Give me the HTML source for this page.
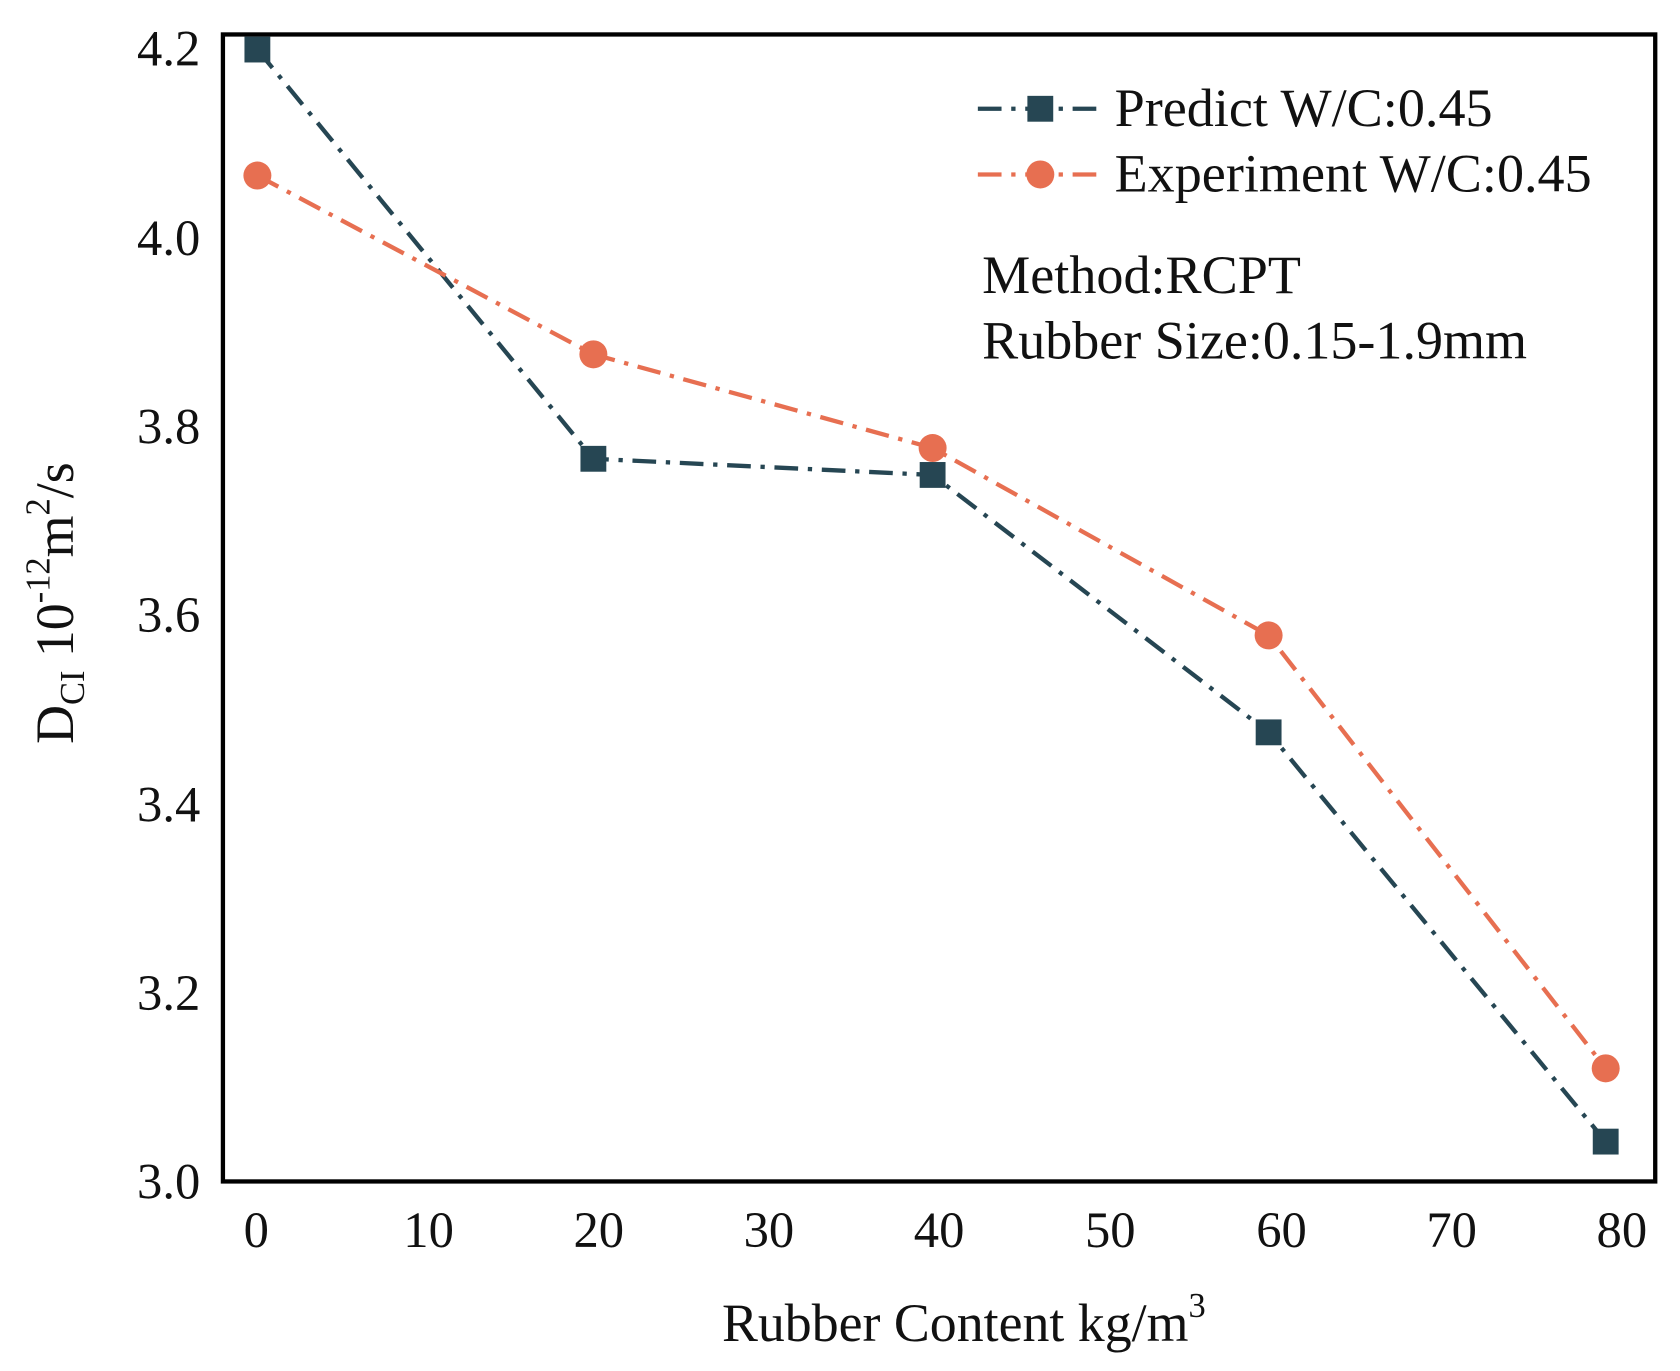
<!DOCTYPE html>
<html><head><style>html,body{margin:0;padding:0;background:#fff}svg{display:block}</style></head>
<body>
<svg width="1680" height="1371" viewBox="0 0 1560 1273" preserveAspectRatio="none" xmlns="http://www.w3.org/2000/svg" font-family="Liberation Serif, serif">
<rect x="207" y="32" width="1330" height="1065" fill="none" stroke="#000" stroke-width="4"/>
<g font-size="47" text-anchor="end" fill="#111">
<text x="186" y="61">4.2</text><text x="186" y="237">4.0</text><text x="186" y="412">3.8</text><text x="186" y="587">3.6</text><text x="186" y="763">3.4</text><text x="186" y="938">3.2</text><text x="186" y="1113">3.0</text>
</g>
<g font-size="47" text-anchor="middle" fill="#111">
<text x="238" y="1158">0</text><text x="398" y="1158">10</text><text x="556" y="1158">20</text><text x="714" y="1158">30</text><text x="872" y="1158">40</text><text x="1031" y="1158">50</text><text x="1190" y="1158">60</text><text x="1348" y="1158">70</text><text x="1506" y="1158">80</text>
</g>
<text x="895" y="1245" font-size="50" text-anchor="middle" fill="#111">Rubber Content kg/m<tspan font-size="32" dy="-22">3</tspan></text>
<text transform="translate(68,560) rotate(-90)" font-size="50" text-anchor="middle" fill="#111">D<tspan font-size="32" dy="10">CI</tspan><tspan dy="-10"> 10</tspan><tspan font-size="32" dy="-22">-12</tspan><tspan dy="22">m</tspan><tspan font-size="32" dy="-22">2</tspan><tspan dy="22">/s</tspan></text>
<polyline points="239,46 551,426 866,441 1178,680 1491,1060" fill="none" stroke="#264653" stroke-width="4" stroke-dasharray="22,9,4,9"/>
<polyline points="239,163 551,329 866,416 1178,590 1491,992" fill="none" stroke="#e76f51" stroke-width="4" stroke-dasharray="22,9,4,9"/>
<g fill="#264653">
<rect x="227" y="34" width="24" height="24"/><rect x="539" y="414" width="24" height="24"/><rect x="854" y="429" width="24" height="24"/><rect x="1166" y="668" width="24" height="24"/><rect x="1479" y="1048" width="24" height="24"/>
</g>
<g fill="#e76f51">
<circle cx="239" cy="163" r="13"/><circle cx="551" cy="329" r="13"/><circle cx="866" cy="416" r="13"/><circle cx="1178" cy="590" r="13"/><circle cx="1491" cy="992" r="13"/>
</g>
<line x1="908" y1="101" x2="1025" y2="101" stroke="#264653" stroke-width="4" stroke-dasharray="22,9,4,9"/>
<rect x="954" y="89" width="24" height="24" fill="#264653"/>
<line x1="908" y1="162" x2="1025" y2="162" stroke="#e76f51" stroke-width="4" stroke-dasharray="22,9,4,9"/>
<circle cx="966" cy="162" r="13" fill="#e76f51"/>
<g font-size="50" fill="#111">
<text x="1035" y="117" textLength="351" lengthAdjust="spacingAndGlyphs">Predict W/C:0.45</text>
<text x="1035" y="178" textLength="443" lengthAdjust="spacingAndGlyphs">Experiment W/C:0.45</text>
<text x="912" y="272" textLength="296" lengthAdjust="spacingAndGlyphs">Method:RCPT</text>
<text x="912" y="333" textLength="506" lengthAdjust="spacingAndGlyphs">Rubber Size:0.15-1.9mm</text>
</g>
</svg>
</body></html>
